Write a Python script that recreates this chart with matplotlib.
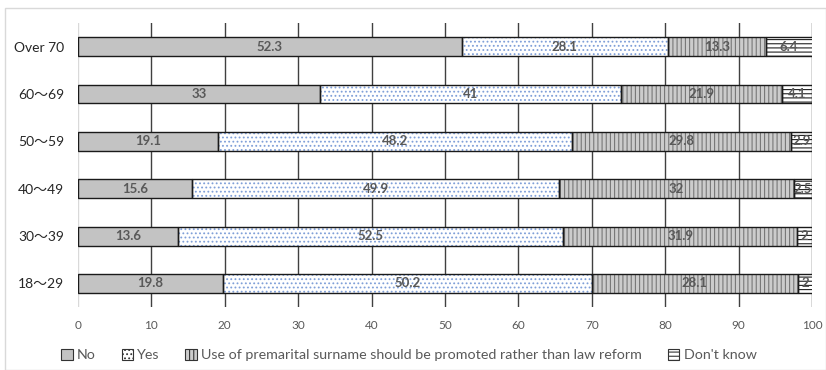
import matplotlib.pyplot as plt
import matplotlib.patches as mpatches
import numpy as np

plt.rcParams['font.family'] = ['Lato', 'Noto Sans CJK JP', 'DejaVu Sans']
plt.rcParams['hatch.linewidth'] = 0.8

groups = ['Over 70', '60～69', '50～59', '40～49', '30～39', '18～29']
no_vals = [52.3, 33, 19.1, 15.6, 13.6, 19.8]
yes_vals = [28.1, 41, 48.2, 49.9, 52.5, 50.2]
surname_vals = [13.3, 21.9, 29.8, 32, 31.9, 28.1]
dk_vals = [6.4, 4.1, 2.9, 2.5, 2, 2]

series = [no_vals, yes_vals, surname_vals, dk_vals]
names = ['No', 'Yes', 'Use of premarital surname should be promoted rather than law reform', "Don't know"]
# face, hatch, hatch colour
styles = [('#c3c3c3', None, '#c3c3c3'),
          ('white', '....', '#7f9fd8'),
          ('#cccccc', '||||', '#777777'),
          ('white', '----', '#222222')]

fig = plt.figure(figsize=(8.26, 3.70), dpi=100)
ax = fig.add_axes([0.0944, 0.170, 0.8886, 0.768])

# light chart-area border
fig.add_artist(mpatches.Rectangle((0.006, 0.0), 0.994, 0.978, transform=fig.transFigure,
                                  fill=False, edgecolor='#d9d9d9', lw=1))

y = np.arange(len(groups))
left = np.zeros(len(groups))
for vals, (face, hatch, hc) in zip(series, styles):
    vals = np.array(vals)
    ax.barh(y, vals, left=left, height=0.4, color=face, hatch=hatch,
            edgecolor=hc, linewidth=0, zorder=3)
    ax.barh(y, vals, left=left, height=0.4, fill=False, edgecolor='#1a1a1a',
            linewidth=1, zorder=4)
    for yi, l, v in zip(y, left, vals):
        ax.text(min(l + v / 2, 99.2 if v < 3 else 100), yi, f'{v:g}', ha='center', va='center',
                fontsize=9.5, fontweight='bold', color='#595959', zorder=5)
    left = left + vals

ax.set_xlim(0, 100)
ax.set_ylim(len(groups) - 0.5, -0.5)
ax.set_xticks(np.arange(0, 101, 10))
ax.set_yticks(y)
ax.set_yticklabels(groups, fontsize=10, color='#262626')
ax.tick_params(axis='x', length=0, labelsize=8.5, colors='#595959', pad=9)
ax.tick_params(axis='y', length=0, pad=10)
ax.xaxis.grid(True, color='#404040', lw=1, zorder=1)
ax.get_xgridlines()[0].set_color('#d9d9d9')
for s in ax.spines.values():
    s.set_visible(False)

handles = [mpatches.Patch(facecolor=f, hatch=h, edgecolor='#333333', lw=0.8)
           for f, h, _ in styles]
fig.legend(handles, names, loc='center', bbox_to_anchor=(0.495, 0.04), ncol=4,
           frameon=False, fontsize=10.3, labelcolor='#595959', handlelength=0.8,
           handleheight=0.8, handletextpad=0.3, columnspacing=1.8)

fig.savefig('out.png', dpi=100)
